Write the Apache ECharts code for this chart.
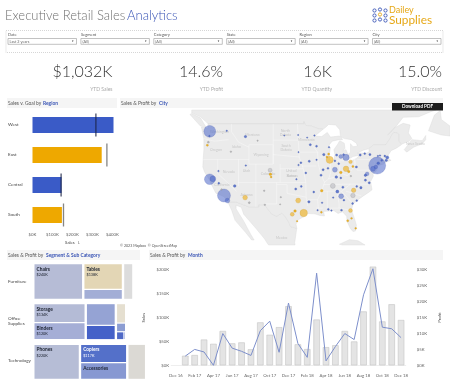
<!DOCTYPE html>
<html>
<head>
<meta charset="utf-8">
<script src="https://cdn.jsdelivr.net/npm/echarts@6/dist/echarts.min.js"></script>
<style>
  html, body { margin: 0; padding: 0; background: #fff; }
  #main { width: 450px; height: 386px; }
</style>
</head>
<body>
<div id="main"></div>
<script>
// header data
var filterLabels = ['Date', 'Segment', 'Category', 'State', 'Region', 'City'];
var filterValues = ['Last 2 years', '(All)', '(All)', '(All)', '(All)', '(All)'];
var kpiValues = ['$1,032K', '14.6%', '16K', '15.0%'];
var kpiLabels = ['YTD Sales', 'YTD Profit', 'YTD Quantity', 'YTD Discount'];

// sales v. goal
var regions = ['West', 'East', 'Central', 'South'];
var regionSales = [405, 346, 145, 147];
var regionGoal = [317, 372, 143, 155];
var regionColors = ['#3a5bc7', '#eea800', '#3a5bc7', '#eea800'];
var goalColors = ['#1b2445', '#666666', '#1b2445', '#666666'];

// sales by month
var months = ['Dec 16', 'Jan 17', 'Feb 17', 'Mar 17', 'Apr 17', 'May 17', 'Jun 17', 'Jul 17', 'Aug 17', 'Sep 17', 'Oct 17', 'Nov 17', 'Dec 17',
  'Jan 18', 'Feb 18', 'Mar 18', 'Apr 18', 'May 18', 'Jun 18', 'Jul 18', 'Aug 18', 'Sep 18', 'Oct 18', 'Nov 18', 'Dec 18'];
var monthSales = [null, 20, 21.5, 54, 45, 72, 46, 48, 33.5, 90, 64, 80, 124, 44, 34, 96, 38, 42, 72, 50, 113, 207, 92, 128, 95];
var monthProfit = [null, 2.9, 5, 4.2, 0, 10, 5.4, 4.4, 3.1, 10.9, 13.9, 4.1, 19.6, 6.9, 2.5, 29, 1.4, 5.9, 10, 8.1, 22.2, 30.4, 12, 11.5, 8.7];

// treemap: [name, sales $K, colour, label kind]  0 none, 1 name and value, 2 name only
var furnitureColumns = [
  [['Chairs', 240, '#b6bcd6', 1]],
  [['Tables', 138, '#e3d6b5', 1], ['Furnishings', 53, '#a3aed6', 0]],
  [['Bookcases', 50, '#dcdcdc', 0]]
];
var officeColumns = [
  [['Storage', 134, '#b4bbd6', 1], ['Binders', 120, '#a5aed6', 1]],
  [['Appliances', 88, '#95a3d4', 0], ['Paper', 58, '#4561c8', 0]],
  [['Supplies', 27, '#e5dfd0', 0], ['Art', 12, '#8c9dd2', 0], ['Envelopes', 9, '#4f69c6', 0], ['Labels', 2, '#7388cf', 0]]
];
var technologyColumns = [
  [['Phones', 220, '#b6bdd6', 1]],
  [['Copiers', 117, '#5470c9', 1], ['Accessories', 106, '#8798d2', 2]],
  [['Machines', 89, '#dbd9d4', 0]]
];
var segmentNames = ['Furniture', 'Office\nSupplies', 'Technology'];

// cities: lon, lat, sales $K, profit $K
var cityPoints = [
  [-74, 40.7, 256, 60], [-118.2, 34, 150, 30], [-122.3, 47.6, 125, 30], [-122.3, 37.7, 100, 18], [-121.4, 37.8, 30, 2],
  [-117.2, 32.8, 20, 2], [-75.2, 40, 22, 6], [-76.9, 38.9, 12, 6], [-77.4, 38.6, 5, 3], [-71.1, 42.4, 8, 3], [-71.4, 41.8, 5, 3],
  [-71.8, 42.7, 3, 2], [-72.7, 41.8, 3, 2], [-73.7, 41.2, 6, 4], [-74.4, 40.4, 12, 8], [-73.2, 42.8, 2, 1],
  [-87.7, 41.9, 45, -6], [-88.5, 42.5, 3, -1], [-83, 42.4, 35, 12], [-84.5, 42.6, 14, 6], [-86.2, 39.8, 22, 8], [-83, 40, 28, -3],
  [-81.7, 41.5, 12, -2], [-82.2, 39.4, 5, -2], [-81, 40.5, 4, -1], [-84.5, 39.2, 6, -1], [-85.8, 38.2, 6, 2], [-86.8, 36.2, 22, 0],
  [-84.4, 33.8, 22, 6], [-80.8, 35.2, 18, -4], [-78.7, 35.8, 5, 3], [-76.3, 36.9, 4, 2], [-79.9, 36.1, 3, 1], [-81, 34, 18, 0],
  [-81.7, 30.4, 14, -1], [-82.5, 27.9, 4, -2], [-80.2, 26, 3, -1], [-81.4, 28.5, 3, -1], [-83.6, 32.9, 3, 2], [-85.5, 34.9, 8, 4],
  [-86.7, 33.5, 2, 4], [-90.1, 30, 3, -1], [-91.2, 30.5, 2, 1], [-90, 35.1, 6, -1], [-90.2, 38.6, 4, 2], [-94.6, 39.1, 3, 1],
  [-95.2, 29.8, 50, -10], [-96.8, 32.8, 22, -3], [-98.5, 29.5, 14, -2], [-97.7, 30.3, 6, -1], [-97.1, 27.8, 2, -1], [-97.5, 35.5, 4, 1],
  [-95.9, 36.1, 3, 2], [-92.3, 34.8, 3, 1], [-93.7, 32.5, 5, 1], [-97.3, 37.7, 2, 1], [-112.1, 33.5, 20, -4], [-110.9, 32.3, 3, 0],
  [-115.1, 36.2, 6, 3], [-111.9, 40.7, 2, 1], [-112, 46.6, 5, 3], [-104.9, 39.7, 14, 0], [-104.8, 38.8, 6, -2], [-104.6, 38.2, 3, -1],
  [-123, 44.9, 4, -1], [-122.7, 45.5, 3, 0], [-122.4, 46.7, 2, 1], [-117.4, 47.7, 2, 1], [-116.2, 43.6, 2, 0], [-119.8, 39.5, 2, 1],
  [-106.6, 35.1, 2, 0], [-106.4, 31.8, 2, 0], [-108.5, 45.8, 1.5, 0], [-96.8, 46.9, 1.5, 1], [-96.7, 43.5, 1.5, 1], [-93.3, 45, 4, 2],
  [-94.2, 46.4, 1.5, 1], [-92.1, 46.8, 2, 1], [-91.5, 44.7, 3, 1], [-89.4, 43, 5, 2], [-88, 43.1, 4, -1], [-87.9, 44.5, 2, 1],
  [-93.6, 41.6, 4, 2], [-91.5, 41.9, 2, 1], [-96, 41.3, 3, 1], [-96.7, 40.8, 2, 2], [-89.6, 39.8, 4, 2], [-88.2, 40.1, 3, 1],
  [-85.7, 42.9, 4, 2], [-83.7, 43, 3, 2], [-86.2, 41.7, 3, 3], [-85.1, 41.1, 3, 3], [-80, 40.4, 4, 1], [-78.9, 42.9, 4, 3],
  [-76.1, 43, 4, 2], [-73.8, 42.7, 2, 1], [-77.6, 43.2, 3, 1], [-77.4, 37.5, 4, 2], [-79.9, 32.8, 3, 1], [-81.1, 32.1, 3, 2],
  [-84.3, 30.5, 3, 2], [-87.2, 30.4, 2, 1], [-88.1, 30.7, 3, 1], [-89.9, 32.3, 2, 1], [-83.9, 35.9, 4, 1], [-84.5, 38, 3, 1],
  [-81.6, 38.4, 2, 0], [-100.8, 46.8, 1, 1], [-101.8, 33.6, 1.5, 0], [-102, 31.9, 1, 0], [-118.9, 35.4, 2, 0], [-119.7, 36.8, 3, 1]
];
var mapLabels = [
  ['United', -98.8, 39.5], ['States', -98.8, 38.4], ['Washington', -119.5, 47.5], ['Oregon', -120.5, 44], ['Idaho', -114.6, 44.5],
  ['Montana', -110, 46.9], ['Wyoming', -107.5, 43], ['Nevada', -116.8, 39.4], ['Utah', -111.7, 39.5], ['Colorado', -105.5, 39],
  ['North', -100.5, 47.7], ['Dakota', -100.5, 47], ['South', -100.3, 44.7], ['Dakota', -100.3, 44], ['Minnesota', -94.5, 46],
  ['California', -118.8, 36.4], ['Arizona', -111.7, 34.2], ['Kansas', -98.5, 38.5], ['Mexico', -101.6, 23.6], ['Nova Scotia', -63, 45.2]
];

// rough land outlines, lon/lat
var mapFrame = [[-128, 21.7], [-53, 21.7], [-53, 51.5], [-128, 51.5]];
var usaOutline = [[-122.8, 49], [-95.15, 49], [-95.15, 49.4], [-94.6, 48.7], [-93, 48.6], [-91, 48.1], [-89.6, 48], [-92, 46.7], [-90, 46.6], [-88.4, 47.4], [-87.5, 46.5], [-85, 46.7], [-84.4, 46.5], [-84, 46], [-85, 46], [-87, 45.7], [-87.8, 45], [-88, 44.5], [-87.5, 44.4], [-87.8, 43], [-87.6, 41.8], [-87, 41.65], [-86.5, 42], [-86.2, 43], [-86.5, 44], [-85.5, 45], [-84.8, 45.8], [-83.5, 45.3], [-83.3, 44.3], [-83.9, 43.7], [-83, 44], [-82.5, 43.1], [-82.5, 42.6], [-83.1, 42.1], [-83.4, 41.7], [-82, 41.5], [-80, 42.2], [-79, 42.9], [-79.1, 43.3], [-77, 43.3], [-76.3, 43.6], [-76.4, 44.2], [-75, 45], [-71.5, 45], [-70.3, 46.2], [-70, 46.7], [-69.2, 47.4], [-68.3, 47.3], [-67.8, 47.1], [-67.8, 45.7], [-67, 45], [-68.5, 44.3], [-70, 43.8], [-70.7, 43], [-71, 42.3], [-70, 41.8], [-71.2, 41.5], [-73.5, 41], [-72, 41.1], [-74, 40.6], [-74.1, 39.7], [-75, 38.9], [-75.5, 39.5], [-75.1, 38.4], [-75.9, 37.2], [-75.5, 35.3], [-76.7, 34.6], [-78, 33.9], [-79.2, 33.2], [-81, 32], [-81.4, 30.5], [-80.5, 28.3], [-80, 26.8], [-80.3, 25.3], [-81, 25.2], [-81.8, 26], [-82.7, 27.8], [-82.8, 29], [-84, 30.1], [-85.3, 29.7], [-86.5, 30.4], [-88, 30.3], [-89.5, 30.2], [-89.2, 29.1], [-90.5, 29.2], [-92, 29.6], [-94, 29.7], [-95, 29], [-97, 28], [-97.4, 27], [-97.2, 26], [-99, 26.4], [-99.5, 27.5], [-100.5, 28.9], [-101.5, 29.8], [-103, 29], [-104.5, 29.6], [-106.5, 31.8], [-108.2, 31.8], [-108.2, 31.3], [-111, 31.3], [-114.8, 32.5], [-117.1, 32.5], [-117.3, 33], [-118.4, 33.8], [-120.5, 34.5], [-121.8, 36.5], [-122.5, 37.7], [-123.8, 39.3], [-124.3, 40.4], [-124.2, 42], [-124, 44], [-124, 46.2], [-124.7, 48.4], [-122.8, 48.2]];
var canadaOutline = [[-127.5, 51], [-125, 50.3], [-123.2, 49.3], [-122.8, 49], [-95.15, 49], [-95.15, 49.4], [-94.6, 48.7], [-93, 48.6], [-91, 48.1], [-89.6, 48], [-89, 48.3], [-88, 48.9], [-86, 48.8], [-84.8, 47.9], [-84.6, 46.6], [-83.5, 46.2], [-81.5, 46], [-80, 45.3], [-79.7, 44.7], [-81, 44.6], [-81.7, 45.2], [-81.7, 43.5], [-82.4, 43], [-82.5, 42.6], [-83.1, 42.1], [-82.5, 41.9], [-81, 42.6], [-79, 42.9], [-79.1, 43.3], [-79.7, 43.3], [-78, 43.9], [-76.4, 44.2], [-75, 45], [-71.5, 45], [-70.3, 46.2], [-70, 46.7], [-69.2, 47.4], [-68.3, 47.3], [-67.8, 47.1], [-67.8, 45.7], [-67, 45.1], [-64.8, 45.7], [-64, 46.2], [-65, 47.3], [-64.5, 48.8], [-66.5, 49.1], [-69, 48.3], [-71, 46.9], [-70, 47.5], [-68, 49], [-66.5, 50.2], [-62, 50.3], [-58.5, 51.2], [-57, 51.5], [-127.5, 51.5]];
var vancouverOutline = [[-128, 50.7], [-125, 48.6], [-123.4, 48.4], [-125, 50.1], [-127.5, 50.9]];
var novaScotiaOutline = [[-66.2, 44], [-64, 46], [-61, 45.8], [-60, 46.8], [-60, 46], [-61, 45.2], [-63.5, 44.5], [-65.5, 43.5]];
var newfoundlandOutline = [[-59.2, 47.7], [-57.5, 50.6], [-55.8, 51.4], [-55.5, 49.8], [-53, 48.6], [-53, 46.7], [-55.5, 46.9]];
var mexicoOutline = [[-117.1, 32.5], [-114.8, 32.5], [-111, 31.3], [-108.2, 31.3], [-108.2, 31.8], [-106.5, 31.8], [-104.5, 29.6], [-103, 29], [-101.5, 29.8], [-100.5, 28.9], [-99.5, 27.5], [-99, 26.4], [-97.2, 26], [-97.8, 22.3], [-97.7, 21.7], [-105.3, 21.7], [-105.6, 22], [-106.5, 23.3], [-109, 26], [-110.5, 27.5], [-112.5, 29.5], [-113.2, 31.2], [-114.7, 31.7], [-114.7, 30.8], [-112.5, 27.8], [-110.5, 24.5], [-109.5, 23], [-110.2, 23], [-112, 25], [-115, 28], [-116, 30.5]];
var cubaOutline = [[-84.9, 21.9], [-82, 23.1], [-79.5, 22.8], [-77.5, 21.7], [-84, 21.7]];
var stateLines = [
  [[-124, 46.2], [-121, 45.7], [-116.9, 46]], [[-124.2, 42], [-111, 42]], [[-120, 42], [-120, 39], [-114.6, 35]], [[-114, 42], [-114, 36.2]],
  [[-114, 37], [-94.6, 37]], [[-109, 41], [-109, 31.3]], [[-111, 45], [-111, 41], [-104, 41], [-104, 45], [-111, 45]],
  [[-116, 49], [-116, 47.5], [-114, 45.5], [-111, 44.5]], [[-104, 45.9], [-96.6, 45.9]], [[-104, 43], [-96.5, 42.5]], [[-102, 40], [-95.3, 40]],
  [[-104, 49], [-104, 41]], [[-102, 41], [-102, 37]], [[-97, 49], [-96.5, 42.5], [-95.3, 40], [-94.6, 37], [-94.5, 33.6]],
  [[-103, 36.5], [-100, 36.5], [-100, 34.5], [-94.5, 33.6], [-94, 31.5]], [[-103, 37], [-103, 32], [-106.6, 32]],
  [[-96.5, 43.5], [-91.2, 43.5]], [[-95.7, 40.6], [-91.5, 40.6]], [[-92.8, 45], [-91.2, 43.5], [-91, 41], [-90.2, 38.8], [-89.2, 37], [-90, 35], [-91.2, 33], [-91, 31]],
  [[-94, 33], [-91.2, 33]], [[-91.6, 31], [-89.7, 31]], [[-87.5, 41.7], [-87.5, 39], [-88, 37.8]], [[-84.8, 41.7], [-84.8, 39.1]],
  [[-89.2, 37], [-88, 37.8], [-85.5, 38.3], [-84.8, 39.1], [-82.5, 38.5], [-80.6, 40.6], [-80.5, 42]], [[-90.6, 42.5], [-87.8, 42.5]],
  [[-87, 41.75], [-83.4, 41.7]], [[-80.5, 42], [-79.8, 39.7], [-75.7, 39.7]], [[-79.8, 42], [-75.3, 42], [-74.8, 41.3], [-75.1, 39.9]],
  [[-90, 35], [-84.3, 35], [-81.7, 36.6], [-75.9, 36.6]], [[-89.5, 36.5], [-81.7, 36.6]], [[-88.4, 35], [-88.4, 30.3]],
  [[-85.6, 35], [-85, 32], [-85, 31], [-87.6, 31]], [[-85, 31], [-82, 30.5], [-81.5, 30.7]], [[-84.3, 35], [-81, 32]], [[-83, 35], [-78.6, 33.9]]
];

function landFeature(name, outline) {
  return { type: 'Feature', properties: { name: name }, geometry: { type: 'Polygon', coordinates: [outline.concat([outline[0]])] } };
}
echarts.registerMap('northAmerica', {
  type: 'FeatureCollection',
  features: [
    landFeature('frame', mapFrame), landFeature('Canada', canadaOutline), landFeature('Vancouver', vancouverOutline),
    landFeature('NovaScotia', novaScotiaOutline), landFeature('Newfoundland', newfoundlandOutline),
    landFeature('Mexico', mexicoOutline), landFeature('Cuba', cubaOutline), landFeature('USA', usaOutline)
  ]
});

var uiFont = 'Lato';
var blue = '#3a55b5';
var graphics = [];

function addText(x, y, text, size, color, align, weight) {
  graphics.push({
    type: 'text', x: x, y: y, z: 100, silent: true,
    style: { text: text, fontFamily: uiFont, fontSize: size, fontWeight: weight || 'normal', fill: color, align: align || 'left', verticalAlign: 'middle' }
  });
}
function addRect(x, y, w, h, style) {
  graphics.push({ type: 'rect', z: 99, silent: true, shape: { x: x, y: y, width: w, height: h }, style: style });
}
function addBar(x, w, y, parts) {
  addRect(x, y, w, 10, { fill: '#f5f5f5' });
  var cursor = x + 1;
  parts.forEach(function (p) {
    addText(cursor, y + 5, p[0], 4.9, p[1], 'left', p[1] === '#555' ? 'normal' : 'bold');
    cursor += p[2];
  });
}

addText(5, 15.5, 'Executive Retail Sales', 13, '#707070', 'left', 300);
addText(127, 15.5, 'Analytics', 13, blue, 'left', 300);

// logo
[[374.5, 10.5], [380, 10.5], [385.5, 10.5], [374.5, 15.5], [380, 15.5], [385.5, 15.5], [374.5, 20.5], [380, 20.5], [385.5, 20.5]].forEach(function (p, i) {
  graphics.push({
    type: 'circle', z: 100, silent: true, shape: { cx: p[0], cy: p[1] - (i % 3 === 1 ? 1 : 0), r: 1.6 },
    style: { fill: 'none', stroke: i === 4 ? '#e6a817' : blue, lineWidth: 0.9 }
  });
});
addText(389, 10.5, 'Dailey', 9, '#e6a817');
addText(389, 20, 'Supplies', 11.8, '#e6a817');

// filter strip
addRect(6, 30.5, 437, 22, { fill: 'none', stroke: '#bbb', lineWidth: 0.6, lineDash: [1, 1] });
filterLabels.forEach(function (label, i) {
  var x = 8 + i * 72.9;
  addText(x, 34.7, label, 4, '#555');
  addRect(x, 38.5, 68.5, 5.8, { fill: '#fff', stroke: '#999', lineWidth: 0.6 });
  addText(x + 1.5, 41.5, filterValues[i], 3.8, '#666');
  addText(x + 66, 41.5, '▼', 2.5, '#333', 'right');
});

// kpis
var kpiRight = [112.5, 223, 332, 442];
kpiValues.forEach(function (v, i) {
  addText(kpiRight[i], 72, v, 16, '#333', 'right', 300);
  addText(kpiRight[i], 89.5, kpiLabels[i], 5, '#aaa', 'right');
});

// section headers
addBar(7, 110, 98, [['Sales v. Goal by ', '#555', 35], ['Region', blue, 20]]);
addBar(120, 323, 98, [['Sales & Profit by ', '#555', 38], ['City', blue, 10]]);
addBar(7, 133, 250, [['Sales & Profit by ', '#555', 38], ['Segment & Sub Category', blue, 60]]);
addBar(149, 294, 250, [['Sales & Profit by ', '#555', 38], ['Month', blue, 20]]);

// pdf button
addRect(392, 103, 51, 7.5, { fill: '#1c1c1c' });
addText(417.5, 107, 'Download PDF', 4.6, '#fff', 'center', 'bold');

addText(120, 245.5, '© 2023 Mapbox  © OpenStreetMap', 3.6, '#555');

// segment names
addText(8, 282, segmentNames[0], 4.6, '#444');
graphics.push({ type: 'text', x: 8, y: 321, z: 100, silent: true, style: { text: segmentNames[1], fontFamily: uiFont, fontSize: 4.6, lineHeight: 5.5, fill: '#444', verticalAlign: 'middle' } });
addText(8, 361, segmentNames[2], 4.6, '#444');

// one treemap per column so the slices stack the way the reference does
var treemapSeries = [];
function addTreeRow(columns, rowTop, rowHeight) {
  var x = 33.3;
  columns.forEach(function (col) {
    var total = col.reduce(function (s, c) { return s + c[1]; }, 0);
    var w = total * 7.7 / rowHeight;
    treemapSeries.push({
      type: 'treemap', left: x, top: rowTop, width: w, height: rowHeight,
      roam: false, nodeClick: false, silent: true, breadcrumb: { show: false },
      squareRatio: col.length === 2 ? (w > rowHeight ? 8 : 0.8) : 1.618,
      itemStyle: { borderColor: '#fff', borderWidth: 0.6, gapWidth: 0 },
      data: col.map(function (c) {
        var light = c[0] === 'Copiers';
        return {
          name: c[0], value: c[1],
          itemStyle: { color: c[2] },
          label: {
            show: c[3] > 0, position: 'insideTopLeft', distance: 0, padding: [1.5, 0, 0, 2], fontFamily: uiFont,
            color: light ? '#fff' : '#1c2230', fontSize: 4.8, lineHeight: 6,
            formatter: c[3] === 1 ? '{n|{b}}\n{v|$' + c[1] + 'K}' : '{n|{b}}',
            rich: {
              n: { fontFamily: uiFont, fontSize: 4.8, fontWeight: 'bold', lineHeight: 6.5, color: light ? '#fff' : '#1c2230' },
              v: { fontFamily: uiFont, fontSize: 3.8, lineHeight: 5.5, color: light ? '#fff' : '#1c2230' }
            }
          }
        };
      })
    });
    x += w;
  });
}
addTreeRow(furnitureColumns, 263, 37);
addTreeRow(officeColumns, 303, 37.3);
addTreeRow(technologyColumns, 343.7, 36.3);

function cityColor(profit) {
  return profit < 0 ? '#eea800' : profit < 0.5 ? '#b5b5bc' : '#4a66c8';
}
function cityBorder(profit) {
  return profit < 0 ? '#c89a30' : profit < 0.5 ? '#888888' : '#3f55ad';
}

var axisText = { fontFamily: uiFont, fontSize: 4.3, color: '#666' };

var chart = echarts.init(document.getElementById('main'));
chart.setOption({
  animation: false,
  textStyle: { fontFamily: uiFont },
  graphic: { elements: graphics },
  geo: {
    map: 'northAmerica', silent: true, roam: false, left: 190, top: 110, width: 260, height: 135, aspectScale: 1,
    projection: {
      project: function (p) {
        return [p[0], -Math.asinh(Math.tan(p[1] * Math.PI / 180)) * 180 / Math.PI];
      },
      unproject: function (p) {
        return [p[0], Math.atan(Math.sinh(-p[1] * Math.PI / 180)) * 180 / Math.PI];
      }
    },
    label: { show: false },
    itemStyle: { areaColor: '#ebebeb', borderColor: '#dadada', borderWidth: 0.4 },
    regions: [{ name: 'frame', itemStyle: { areaColor: '#fff', borderWidth: 0 } }]
  },
  grid: [
    { left: 32.5, top: 110, width: 80, height: 120 },
    { left: 171.2, top: 270, width: 240, height: 95.3 }
  ],
  xAxis: [
    {
      gridIndex: 0, type: 'value', min: 0, max: 400, interval: 100,
      axisLine: { show: false }, axisTick: { show: false }, splitLine: { show: false },
      axisLabel: Object.assign({ margin: 2.5, formatter: '${value}K' }, axisText),
      name: 'Sales  ⇂', nameLocation: 'middle', nameGap: 11, nameTextStyle: { fontFamily: uiFont, fontSize: 4.3, color: '#444' }
    },
    {
      gridIndex: 1, type: 'category', data: months,
      axisLine: { lineStyle: { color: '#ddd', width: 0.5 } }, axisTick: { show: false },
      axisLabel: Object.assign({ interval: 1, margin: 8 }, axisText)
    }
  ],
  yAxis: [
    {
      gridIndex: 0, type: 'category', data: regions, inverse: true,
      axisLine: { show: false }, axisTick: { show: false },
      axisLabel: { fontFamily: uiFont, fontSize: 4.6, color: '#444', align: 'left', margin: 24.5 }
    },
    {
      gridIndex: 1, type: 'value', min: 0, max: 200, interval: 50,
      axisLine: { show: false }, axisTick: { show: false }, splitLine: { show: false },
      axisLabel: Object.assign({ margin: 2, formatter: '${value}K' }, axisText),
      name: 'Sales', nameLocation: 'middle', nameGap: 14, nameTextStyle: { fontFamily: uiFont, fontSize: 4.3, color: '#444' }
    },
    {
      gridIndex: 1, type: 'value', min: 0, max: 30, interval: 5, position: 'right',
      axisLine: { show: false }, axisTick: { show: false }, splitLine: { show: false },
      axisLabel: Object.assign({ margin: 11, formatter: '${value}K' }, axisText),
      name: 'Profit', nameLocation: 'middle', nameGap: 27, nameTextStyle: { fontFamily: uiFont, fontSize: 4.3, color: '#444' }
    }
  ],
  series: [
    {
      type: 'lines', coordinateSystem: 'geo', polyline: true, silent: true, z: 2,
      lineStyle: { color: '#fff', width: 0.5, opacity: 0.7 },
      data: stateLines.map(function (c) { return { coords: c }; })
    },
    {
      type: 'scatter', coordinateSystem: 'geo', silent: true, z: 3, symbolSize: 0,
      label: { show: true, position: 'inside', formatter: '{b}', fontFamily: uiFont, fontSize: 3.6, color: '#c0c0c0' },
      data: mapLabels.map(function (m) { return { name: m[0], value: [m[1], m[2]] }; })
    },
    {
      type: 'scatter', coordinateSystem: 'geo', silent: true, z: 4,
      symbolSize: function (v) { return Math.max(1.2, Math.sqrt(v[2]) * 1.06); },
      data: cityPoints.map(function (c) {
        return {
          value: c,
          itemStyle: { color: cityColor(c[3]), borderColor: cityBorder(c[3]), borderWidth: 0.4, opacity: c[2] < 10 ? 0.85 : 0.55 }
        };
      })
    },
    {
      type: 'bar', xAxisIndex: 0, yAxisIndex: 0, barWidth: 16, clip: false, silent: true,
      data: regionSales.map(function (v, i) { return { value: v, itemStyle: { color: regionColors[i] } }; })
    },
    {
      type: 'scatter', xAxisIndex: 0, yAxisIndex: 0, symbol: 'rect', symbolSize: [1.3, 23], silent: true, z: 5,
      data: regionGoal.map(function (v, i) { return { value: [v, regions[i]], itemStyle: { color: goalColors[i] } }; })
    },
    {
      type: 'bar', xAxisIndex: 1, yAxisIndex: 1, barWidth: 6.4, clip: false, silent: true,
      itemStyle: { color: '#e4e4e4', borderColor: '#bdbdbd', borderWidth: 0.5 },
      data: monthSales
    },
    {
      type: 'line', xAxisIndex: 1, yAxisIndex: 2, clip: false, silent: true, showSymbol: false, z: 5,
      lineStyle: { color: '#7d8fcb', width: 1 },
      data: monthProfit
    }
  ].concat(treemapSeries)
});
</script>
</body>
</html>
